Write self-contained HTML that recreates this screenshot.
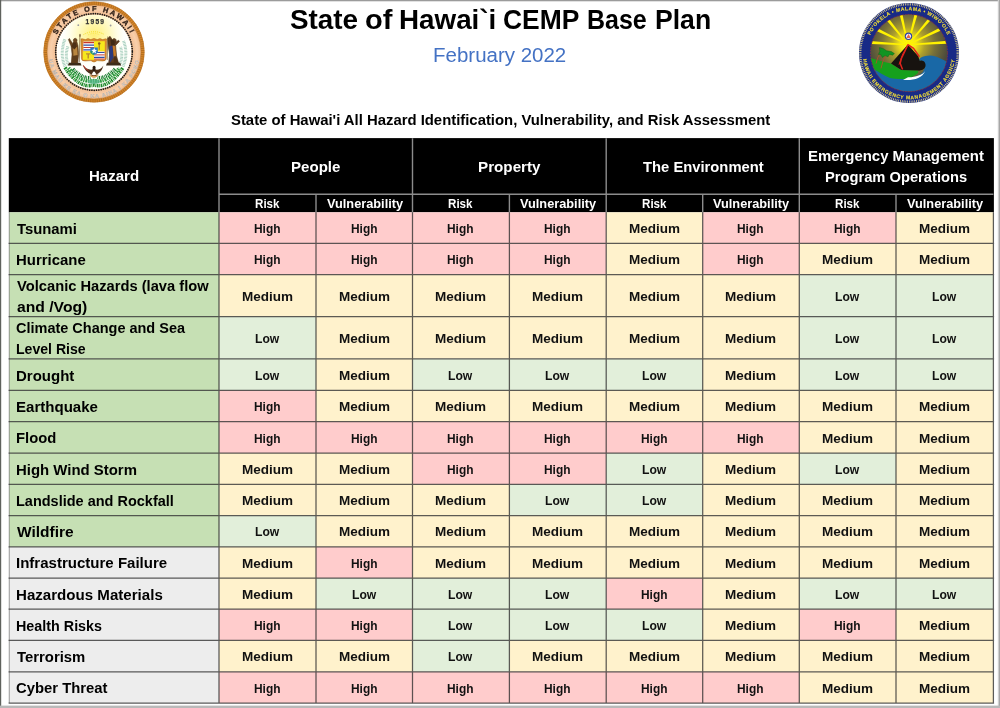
<!DOCTYPE html>
<html lang="en"><head><meta charset="utf-8"><title>State of Hawai`i CEMP Base Plan</title>
<style>
html,body{margin:0;padding:0;background:#fff}
body{width:1000px;height:708px;position:relative;overflow:hidden;font-family:"Liberation Sans",Arial,sans-serif}
#grid,#frame{position:absolute;left:0;top:0}
.t{position:absolute;white-space:nowrap;line-height:20px;font-weight:700;transform-origin:0 50%;margin:0}
.seal{position:absolute}
</style></head><body>
<svg id="grid" width="1000" height="708" viewBox="0 0 1000 708">
<rect x="8.8" y="138.1" width="985.1" height="74.2" fill="#000"/>
<rect x="9.3" y="212.3" width="209.7" height="31.1" fill="#c6e0b4"/>
<rect x="219" y="212.3" width="387.2" height="31.1" fill="#ffcccc"/>
<rect x="606.2" y="212.3" width="96.5" height="31.1" fill="#fff2cc"/>
<rect x="702.7" y="212.3" width="193.3" height="31.1" fill="#ffcccc"/>
<rect x="896" y="212.3" width="97.4" height="31.1" fill="#fff2cc"/>
<rect x="9.3" y="243.4" width="209.7" height="31.2" fill="#c6e0b4"/>
<rect x="219" y="243.4" width="387.2" height="31.2" fill="#ffcccc"/>
<rect x="606.2" y="243.4" width="96.5" height="31.2" fill="#fff2cc"/>
<rect x="702.7" y="243.4" width="96.6" height="31.2" fill="#ffcccc"/>
<rect x="799.3" y="243.4" width="194.1" height="31.2" fill="#fff2cc"/>
<rect x="9.3" y="274.6" width="209.7" height="42.1" fill="#c6e0b4"/>
<rect x="219" y="274.6" width="580.3" height="42.1" fill="#fff2cc"/>
<rect x="799.3" y="274.6" width="194.1" height="42.1" fill="#e2efda"/>
<rect x="9.3" y="316.7" width="209.7" height="42.1" fill="#c6e0b4"/>
<rect x="219" y="316.7" width="97.0" height="42.1" fill="#e2efda"/>
<rect x="316" y="316.7" width="483.3" height="42.1" fill="#fff2cc"/>
<rect x="799.3" y="316.7" width="194.1" height="42.1" fill="#e2efda"/>
<rect x="9.3" y="358.8" width="209.7" height="31.6" fill="#c6e0b4"/>
<rect x="219" y="358.8" width="97.0" height="31.6" fill="#e2efda"/>
<rect x="316" y="358.8" width="96.5" height="31.6" fill="#fff2cc"/>
<rect x="412.5" y="358.8" width="290.2" height="31.6" fill="#e2efda"/>
<rect x="702.7" y="358.8" width="96.6" height="31.6" fill="#fff2cc"/>
<rect x="799.3" y="358.8" width="194.1" height="31.6" fill="#e2efda"/>
<rect x="9.3" y="390.4" width="209.7" height="31.3" fill="#c6e0b4"/>
<rect x="219" y="390.4" width="97.0" height="31.3" fill="#ffcccc"/>
<rect x="316" y="390.4" width="677.4" height="31.3" fill="#fff2cc"/>
<rect x="9.3" y="421.7" width="209.7" height="31.4" fill="#c6e0b4"/>
<rect x="219" y="421.7" width="580.3" height="31.4" fill="#ffcccc"/>
<rect x="799.3" y="421.7" width="194.1" height="31.4" fill="#fff2cc"/>
<rect x="9.3" y="453.1" width="209.7" height="31.3" fill="#c6e0b4"/>
<rect x="219" y="453.1" width="193.5" height="31.3" fill="#fff2cc"/>
<rect x="412.5" y="453.1" width="193.7" height="31.3" fill="#ffcccc"/>
<rect x="606.2" y="453.1" width="96.5" height="31.3" fill="#e2efda"/>
<rect x="702.7" y="453.1" width="96.6" height="31.3" fill="#fff2cc"/>
<rect x="799.3" y="453.1" width="96.7" height="31.3" fill="#e2efda"/>
<rect x="896" y="453.1" width="97.4" height="31.3" fill="#fff2cc"/>
<rect x="9.3" y="484.4" width="209.7" height="31.2" fill="#c6e0b4"/>
<rect x="219" y="484.4" width="290.4" height="31.2" fill="#fff2cc"/>
<rect x="509.4" y="484.4" width="193.3" height="31.2" fill="#e2efda"/>
<rect x="702.7" y="484.4" width="290.7" height="31.2" fill="#fff2cc"/>
<rect x="9.3" y="515.6" width="209.7" height="31.3" fill="#c6e0b4"/>
<rect x="219" y="515.6" width="97.0" height="31.3" fill="#e2efda"/>
<rect x="316" y="515.6" width="677.4" height="31.3" fill="#fff2cc"/>
<rect x="9.3" y="546.9" width="209.7" height="31.1" fill="#ededed"/>
<rect x="219" y="546.9" width="97.0" height="31.1" fill="#fff2cc"/>
<rect x="316" y="546.9" width="96.5" height="31.1" fill="#ffcccc"/>
<rect x="412.5" y="546.9" width="580.9" height="31.1" fill="#fff2cc"/>
<rect x="9.3" y="578.0" width="209.7" height="31.1" fill="#ededed"/>
<rect x="219" y="578.0" width="97.0" height="31.1" fill="#fff2cc"/>
<rect x="316" y="578.0" width="290.2" height="31.1" fill="#e2efda"/>
<rect x="606.2" y="578.0" width="96.5" height="31.1" fill="#ffcccc"/>
<rect x="702.7" y="578.0" width="96.6" height="31.1" fill="#fff2cc"/>
<rect x="799.3" y="578.0" width="194.1" height="31.1" fill="#e2efda"/>
<rect x="9.3" y="609.1" width="209.7" height="31.3" fill="#ededed"/>
<rect x="219" y="609.1" width="193.5" height="31.3" fill="#ffcccc"/>
<rect x="412.5" y="609.1" width="290.2" height="31.3" fill="#e2efda"/>
<rect x="702.7" y="609.1" width="96.6" height="31.3" fill="#fff2cc"/>
<rect x="799.3" y="609.1" width="96.7" height="31.3" fill="#ffcccc"/>
<rect x="896" y="609.1" width="97.4" height="31.3" fill="#fff2cc"/>
<rect x="9.3" y="640.4" width="209.7" height="31.4" fill="#ededed"/>
<rect x="219" y="640.4" width="193.5" height="31.4" fill="#fff2cc"/>
<rect x="412.5" y="640.4" width="96.9" height="31.4" fill="#e2efda"/>
<rect x="509.4" y="640.4" width="484.0" height="31.4" fill="#fff2cc"/>
<rect x="9.3" y="671.8" width="209.7" height="31.3" fill="#ededed"/>
<rect x="219" y="671.8" width="580.3" height="31.3" fill="#ffcccc"/>
<rect x="799.3" y="671.8" width="194.1" height="31.3" fill="#fff2cc"/>
<path d="M219 194.2H993.4M219 138.2V212.3M412.5 138.2V212.3M606.2 138.2V212.3M799.3 138.2V212.3M316 194.2V212.3M509.4 194.2V212.3M702.7 194.2V212.3M896 194.2V212.3" stroke="#8c8c8c" stroke-width="1.4" fill="none"/>
<path d="M8.600000000000001 243.4H994.1M8.600000000000001 274.6H994.1M8.600000000000001 316.7H994.1M8.600000000000001 358.8H994.1M8.600000000000001 390.4H994.1M8.600000000000001 421.7H994.1M8.600000000000001 453.1H994.1M8.600000000000001 484.4H994.1M8.600000000000001 515.6H994.1M8.600000000000001 546.9H994.1M8.600000000000001 578.0H994.1M8.600000000000001 609.1H994.1M8.600000000000001 640.4H994.1M8.600000000000001 671.8H994.1M8.600000000000001 703.1H994.1M219 212.3V703.1M316 212.3V703.1M412.5 212.3V703.1M509.4 212.3V703.1M606.2 212.3V703.1M702.7 212.3V703.1M799.3 212.3V703.1M896 212.3V703.1M993.4 212.3V703.1" stroke="#2e2e2e" stroke-opacity=".78" stroke-width="1.25" fill="none"/>
<path d="M9.3 212.3V703.1" stroke="#4a4a4a" stroke-opacity=".45" stroke-width="1.2" fill="none"/>
</svg>
<svg id="frame" width="1000" height="708" viewBox="0 0 1000 708"><rect x="0" y="0" width="1000" height="1.3" fill="#9b9b9b"/><rect x="0" y="0" width="1.2" height="708" fill="#5f625d"/><rect x="997.8" y="0" width="1.2" height="708" fill="#cfcfcf"/><rect x="999" y="0" width="1" height="708" fill="#a6a6a6"/><rect x="0" y="705.6" width="1000" height="2.4" fill="#b9b9b9"/></svg>
<svg class="seal" style="left:42.5px;top:1px" width="102" height="102" viewBox="-51 -51 102 102" font-family="Liberation Sans, Arial, sans-serif">
<defs>
<radialGradient id="s1glow" cx="0" cy="-17" r="30" gradientUnits="userSpaceOnUse">
<stop offset="0" stop-color="#ffef78"/><stop offset=".4" stop-color="#fff7b0"/><stop offset=".8" stop-color="#fffde8"/><stop offset="1" stop-color="#fffffb"/>
</radialGradient>
<radialGradient id="s1band" cx="0" cy="0" r="48" gradientUnits="userSpaceOnUse">
<stop offset=".8" stop-color="#f3bf94"/><stop offset=".9" stop-color="#f8cfab"/><stop offset="1" stop-color="#f2b987"/>
</radialGradient>
<path id="s1top" d="M-40.9 0A40.9 40.9 0 0 1 40.9 0"/>
<path id="s1bot" d="M-45.9 0A45.9 45.9 0 0 0 45.9 0"/>
</defs>
<circle r="48" fill="url(#s1band)"/>
<circle r="48.7" fill="none" stroke="#d6862a" stroke-width="3.3"/>
<circle r="48.7" fill="none" stroke="#8f5514" stroke-width="3.3" stroke-dasharray="0.9 1.3" stroke-opacity=".5"/>
<circle r="50.3" fill="none" stroke="#b9701f" stroke-width=".5"/>
<circle r="47" fill="none" stroke="#a8651c" stroke-width=".5"/>
<circle r="37.6" fill="url(#s1glow)"/>
<circle r="38.3" fill="none" stroke="#1d1a18" stroke-width="1.75" stroke-dasharray="0.05 2.25" stroke-linecap="round"/>
<text font-size="7.2" font-weight="700" fill="#33231a" stroke="#33231a" stroke-width=".35" letter-spacing="2.05"><textPath href="#s1top" startOffset="50%" text-anchor="middle">STATE OF HAWAII</textPath></text>
<text font-size="5.4" font-weight="700" fill="#e9e4de" stroke="#a9a19a" stroke-width=".3" letter-spacing=".95"><textPath href="#s1bot" startOffset="50%" text-anchor="middle">UA MAU KE EA O KA AINA I KA PONO</textPath></text>
<text x="1.4" y="-27.7" font-size="6.6" font-weight="700" fill="#333" stroke="#333" stroke-width=".25" text-anchor="middle" letter-spacing="1.25">1959</text>
<circle cx="-15.7" cy="-26.8" r=".9" fill="#9a9aa2"/>
<circle cx="16.6" cy="-26.5" r=".9" fill="#9a9aa2"/>
<!-- rising sun dots -->
<path d="M-10.5 -17.4Q0 -23.3 10.5 -17.4" fill="none" stroke="#f2dc1c" stroke-width="1" stroke-dasharray=".9 1.1"/>
<path d="M-6 -17Q0 -20.2 6 -17" fill="none" stroke="#f6e640" stroke-width=".9" stroke-dasharray=".8 1"/>
<!-- ferns -->
<g fill="none" stroke="#a4cdbb" stroke-width="3" stroke-dasharray=".8 .7">
<path d="M-29 14.5Q-34.5 2 -29 -13"/><path d="M-25.6 13Q-29.5 4 -26 -6"/>
<path d="M29 14.5Q34.5 2 29.5 -11"/><path d="M25.6 13Q29.5 4 26.5 -5"/>
</g>
<!-- foliage -->
<g fill="none" stroke-linecap="butt">
<path d="M-29 15.5Q-15 37 0 33Q15 37 29 15.5" stroke="#1f8a2c" stroke-width="3.6" stroke-dasharray="1.7 .7 .9 .6"/>
<path d="M-25.5 16Q-13 31.5 0 28.6Q13 31.5 25.5 16" stroke="#2a9a3a" stroke-width="3.8" stroke-dasharray="1.3 .8 2 .7"/>
<path d="M-21 17Q-11 27 -3.5 25.4M21 17Q11 27 3.5 25.4" stroke="#14782a" stroke-width="3.4" stroke-dasharray="1.2 .7 .7 .9"/>
<path d="M-27 17.5Q-14 34 0 30.8Q14 34 27 17.5" stroke="#e9f6e6" stroke-width=".8" stroke-dasharray=".8 1.9"/>
<path d="M-23 18.5Q-12 29 -2 27M23 18.5Q12 29 2 27" stroke="#d6efd6" stroke-width=".8" stroke-dasharray=".7 1.6"/>
</g>
<ellipse cx="0" cy="29.6" rx="6.5" ry="2.3" fill="#57b78a" fill-opacity=".8"/>
<!-- left figure (Kamehameha) -->
<g>
<path d="M-14 -18L-14.8 10" stroke="#6b4a25" stroke-width=".7"/>
<path d="M-14 -18.6l.6 3.2h-1.2z" fill="#4f3517"/>
<path d="M-24.6 -13.6L-21.3 -8.3L-20.4 -10.6A1.9 2 0 1 1 -17.2 -10.6L-16 -6.5L-15.3 2.5L-16.4 11.2L-22.6 11.2L-22 2L-22.9 -5.8L-25.6 -12.4Z" fill="#6e4820" stroke="#4a2f14" stroke-width=".5"/>
<path d="M-21 -6L-17 -6.5L-16.4 4L-20.4 7Z" fill="#b9863f"/>
<path d="M-25 10.8h11.5l1 2.8h-13.6z" fill="#3d2c1a"/><path d="M-22.6 -5.4L-20.6 -9.6L-18 -9.4L-17 -5.6L-19.6 -2.4Z" fill="#4e3116"/><path d="M-22 4L-16.2 3L-16.6 11H-22.4Z" fill="#5d3c1b"/>
</g>
<!-- right figure (Liberty) -->
<g>
<path d="M13.6 -13.5L16 -15.8L18.4 -12.2A2 2 0 1 1 21 -9.6L24.6 -11.8L25.4 -10.6L21.6 -6.6L22.6 4L24.6 11.2L14.6 11.2L15.6 2.4L14.3 -5Z" fill="#5e3b1e" stroke="#3f2712" stroke-width=".5"/>
<path d="M15.4 -5.6L18.4 -6.8L19.5 5.5L16 10.8L15.3 3Z" fill="#2b3a7d"/>
<path d="M18.6 -6.4L21.3 -5.8L22 3.5L19.8 5.4Z" fill="#c77c2b"/>
<path d="M13 10.8h13.2l1 2.8h-15.2z" fill="#3d2c1a"/><path d="M16.4 -12.6L20.6 -11.6L21 -7.6L17.4 -6.2Z" fill="#3f2914"/><path d="M20.4 3.6L23.4 8L24.4 11H19.6Z" fill="#4b3018"/>
<path d="M13.8 -15.5L13.2 8" stroke="#5a3a1a" stroke-width=".6"/>
</g>
<!-- shield -->
<g>
<path d="M-13 -12.2Q-13.4 -13.6 -11.6 -13.2L-8.6 -12.4L-6 -13.4L-3.2 -12.4L0 -13.6L3.2 -12.4L6 -13.4L8.6 -12.4L11.6 -13.2Q13.2 -13.6 12.6 -11.6L12.2 6.2Q12 9.2 8.6 9L3 8.6Q0 11.6 -3 8.6L-9 9Q-12.6 9.2 -12.6 6.2Z" fill="#d88a2c" stroke="#a86218" stroke-width=".5"/>
<rect x="-10.6" y="-10.4" width="10.6" height="9.6" fill="#fff"/>
<path d="M-10.6 -9.3h10.6M-10.6 -4.5h10.6" stroke="#c8382c" stroke-width="1.2"/>
<path d="M-10.6 -6.9h10.6M-10.6 -2.1h10.6" stroke="#2f4fa4" stroke-width="1.2"/>
<rect x="0" y="-10.8" width="10.8" height="10.2" fill="#f6e81c"/>
<path d="M5.2 -8.6V-2.2" stroke="#8a5a24" stroke-width=".9"/><circle cx="5.2" cy="-8.6" r="1.25" fill="#8a5a24"/>
<rect x="-11.2" y="-.8" width="11.2" height="8.6" fill="#f6e81c"/>
<path d="M-8 1.2h4.4v1.2h-1.5v4h-1.4v-4H-8z" fill="#b98a2e"/>
<rect x="0" y="-.6" width="10.6" height="8" fill="#fff"/>
<path d="M0 .5h10.6M0 5.3h10.6" stroke="#2f4fa4" stroke-width="1.2"/>
<path d="M0 2.9h10.6M0 7h10.6" stroke="#c8382c" stroke-width="1"/>
<path d="M-3.6 -4.6h7.4v5.2Q0 5 -3.6 .6z" fill="#2a78c4"/>
<path d="M-3.6 -1h3.6v4.2Q-3 2.4 -3.6 .6z" fill="#2a9a58" fill-opacity=".7"/>
<path d="M.2 -4.2l.8 2 2.1.1-1.6 1.4.6 2.1L.2 .2-1.7 1.4l.6-2.1-1.6-1.4 2.1-.1z" fill="#fff"/>
</g>
<!-- phoenix -->
<g>
<path d="M-11.4 12.8Q-8.6 20.6 -2.4 22.4L0 18.4L2.4 22.4Q7.6 20.6 9.4 13.4Q6 18.6 1.6 17.6L0 14.6L-1.6 17.6Q-7 18.4 -11.4 12.8Z" fill="#4a2f1a"/>
<path d="M-10.6 13.4Q-8.6 17.4 -5.6 18.4" stroke="#c8382c" stroke-width="1" fill="none"/>
<path d="M-1.4 15.4A1.5 1.6 0 1 1 1.6 15.4L1 19.5H-1z" fill="#2a1a10"/>
<path d="M-5 22Q0 27.2 5 22Q3 25.6 0 25.8Q-3 25.6 -5 22Z" fill="#d88a2c"/>
<path d="M-4 21.6Q0 24.8 4 21.6L3 23.6Q0 24.8 -3 23.6Z" fill="#7b4a1f"/>
</g>
</svg>

<svg class="seal" style="left:857.7px;top:1.5px" width="102" height="102" viewBox="-51 -51 102 102" font-family="Liberation Sans, Arial, sans-serif">
<defs>
<radialGradient id="s2sky" cx="-1" cy="-9" r="40" gradientUnits="userSpaceOnUse">
<stop offset="0" stop-color="#ffff22"/><stop offset=".2" stop-color="#f2e31a"/><stop offset=".42" stop-color="#ad9f2c"/><stop offset=".68" stop-color="#777039"/><stop offset="1" stop-color="#4b4a3c"/>
</radialGradient>
<clipPath id="s2clip"><circle r="38.4"/></clipPath>
<path id="s2top" d="M-42.6 0A42.6 42.6 0 0 1 42.6 0"/>
<path id="s2bot" d="M-46.4 0A46.4 46.4 0 0 0 46.4 0"/>
</defs>
<circle r="50" fill="#182a86"/>
<circle r="48.7" fill="none" stroke="#e2d38c" stroke-width="2.3" stroke-dasharray=".8 1.0"/>
<circle r="38.4" fill="url(#s2sky)"/>
<g clip-path="url(#s2clip)">
<!-- rays -->
<g fill="#fff200">
<path d="M-1.1 -8.8L-38.4 -11.9L-38.6 -8.9L-1.1 -7.8Z"/>
<path d="M-0.9 -8.7L-31.8 -24.9L-33.2 -22.2L-1.3 -7.9Z"/>
<path d="M-0.7 -8.6L-20.4 -34.8L-22.7 -32.9L-1.5 -8.0Z"/>
<path d="M-0.6 -8.4L-6.7 -40.0L-9.6 -39.3L-1.6 -8.2Z"/>
<path d="M-0.6 -8.2L8.7 -39.2L5.8 -40.0L-1.6 -8.4Z"/>
<path d="M-0.7 -8.0L22.3 -33.4L20.1 -35.4L-1.5 -8.6Z"/>
<path d="M-0.9 -7.8L32.6 -22.8L31.3 -25.5L-1.3 -8.8Z"/>
<path d="M-1.1 -7.8L38.8 -9.3L38.6 -12.3L-1.1 -8.8Z"/>
</g>
<!-- water -->
<path d="M-40 12C-30 16 -24 22 -12 25C0 27 9 24 14 19L16 14C17 11 13 7 10.5 8C9 5.5 13 2.6 21 2.4C28 2.6 34 7 40 9.5V40H-40Z" fill="#1968a6"/>
<!-- land -->
<path d="M-40 4.4C-33 6 -26 9 -18 10.6L-8 17L9.4 17.6L9 20C2 26 -6 27.4 -19 25C-27 21.4 -31 18 -40 14Z" fill="#16a01c"/>
<!-- foam -->
<path d="M-6 26.9C4 28 13 25 16.2 18.2C13.6 21.8 6 24.4 -1 24.2Z" fill="#fff"/>
<!-- volcano -->
<path d="M-1.1 -8.6L9.3 3.2C10 5.4 10.2 6.6 10.9 7.9C14 6.4 17.4 9.6 16.4 13.6C15.4 17 11 18 9 17.6L-7.7 17L-18 10.4Z" fill="#17130f"/>
<path d="M-1.1 -8.4L-4 -2L-7.6 5.4L-8.8 10.4L-6.4 16.6" fill="none" stroke="#e0241c" stroke-width="1.5" stroke-linejoin="round"/>
<path d="M-1.1 -8.4L4.6 -4.6L10.4 3.8" fill="none" stroke="#e0241c" stroke-width="1.5" stroke-linejoin="round"/>
<path d="M-2.4 -5.6L-6.2 1L-8.6 7.6L-10 11.6" fill="none" stroke="#d8231c" stroke-width="1"/>
<!-- palms -->
<path d="M-33 10.6Q-31.6 4 -29 .6M-28 15.4Q-26.6 8 -23.6 3.4" fill="none" stroke="#b2502a" stroke-width=".9"/>
<path d="M-29.6 -5.4L-26 -4.6L-22.4 -2.2L-17.6 -1.4L-14.6 .6L-16.4 2.2L-19.6 1.4L-21 3.8L-24 2.6L-26.6 4.4L-28.2 1.6L-30.6 1.4L-29.2 -1.6Z" fill="#119422" stroke="#0b5a18" stroke-width=".4"/>
</g>
<circle r="38.6" fill="none" stroke="#c8321f" stroke-width=".8" stroke-dasharray=".7 .9"/>
<!-- CD emblem -->
<circle cx="-.5" cy="-16.7" r="3.7" fill="#2a3fa6"/>
<circle cx="-.5" cy="-16.7" r="2.6" fill="#f4ecef"/>
<path d="M-.5 -19.1L1.8 -15.1H-2.8Z" fill="#e2674a"/>
<text font-size="5" font-weight="700" fill="#ecd93a" stroke="#ecd93a" stroke-width=".15" letter-spacing=".5"><textPath href="#s2top" startOffset="50%" text-anchor="middle">PO'OKELA • MALAMA • WIWO'OLE</textPath></text>
<text font-size="5" font-weight="700" fill="#ecd93a" stroke="#ecd93a" stroke-width=".15" letter-spacing=".62"><textPath href="#s2bot" startOffset="50%" text-anchor="middle">HAWAII EMERGENCY MANAGEMENT AGENCY</textPath></text>
</svg>

<h1 style="margin:0;font-size:inherit;font-weight:inherit"><span class="t" style="left:289.69px;top:9.50px;font-size:27.5px;color:#000;transform:scaleX(1.0123);">State</span> <span class="t" style="left:364.94px;top:9.50px;font-size:27.5px;color:#000;transform:scaleX(1.0560);">of</span> <span class="t" style="left:398.98px;top:9.50px;font-size:27.5px;color:#000;transform:scaleX(1.0109);">Hawai`i</span> <span class="t" style="left:503.24px;top:9.50px;font-size:27.5px;color:#000;transform:scaleX(0.9610);">CEMP</span> <span class="t" style="left:586.68px;top:9.50px;font-size:27.5px;color:#000;transform:scaleX(0.9079);">Base</span> <span class="t" style="left:654.77px;top:9.50px;font-size:27.5px;color:#000;transform:scaleX(0.9667);">Plan</span></h1>
<div class="t" style="left:433.15px;top:45.00px;font-size:20px;font-weight:400;color:#4472c4;transform:scaleX(1.0244);">February 2022</div>
<div class="t" style="left:230.97px;top:109.50px;font-size:14.5px;color:#000;transform:scaleX(1.0251);">State of Hawai&#x27;i All Hazard Identification, Vulnerability, and Risk Assessment</div>
<div class="t" style="left:88.87px;top:165.70px;font-size:14.6px;color:#fff;transform:scaleX(1.0298);">Hazard</div>
<div class="t" style="left:291.17px;top:156.70px;font-size:14.6px;color:#fff;transform:scaleX(1.0326);">People</div>
<div class="t" style="left:477.96px;top:156.70px;font-size:14.6px;color:#fff;transform:scaleX(1.0424);">Property</div>
<div class="t" style="left:642.50px;top:156.70px;font-size:14.6px;color:#fff;transform:scaleX(1.0126);">The Environment</div>
<div class="t" style="left:807.58px;top:146.40px;font-size:14.6px;color:#fff;transform:scaleX(1.0228);">Emergency Management</div>
<div class="t" style="left:824.99px;top:167.10px;font-size:14.6px;color:#fff;transform:scaleX(1.0071);">Program Operations</div>
<div class="t" style="left:254.68px;top:194.20px;font-size:12.7px;color:#fff;transform:scaleX(0.9154);">Risk</div>
<div class="t" style="left:326.55px;top:194.20px;font-size:12.7px;color:#fff;transform:scaleX(1.0053);">Vulnerability</div>
<div class="t" style="left:448.13px;top:194.20px;font-size:12.7px;color:#fff;transform:scaleX(0.9154);">Risk</div>
<div class="t" style="left:520.10px;top:194.20px;font-size:12.7px;color:#fff;transform:scaleX(1.0053);">Vulnerability</div>
<div class="t" style="left:641.63px;top:194.20px;font-size:12.7px;color:#fff;transform:scaleX(0.9154);">Risk</div>
<div class="t" style="left:713.30px;top:194.20px;font-size:12.7px;color:#fff;transform:scaleX(1.0053);">Vulnerability</div>
<div class="t" style="left:834.83px;top:194.20px;font-size:12.7px;color:#fff;transform:scaleX(0.9154);">Risk</div>
<div class="t" style="left:907.00px;top:194.20px;font-size:12.7px;color:#fff;transform:scaleX(1.0053);">Vulnerability</div>
<div class="t" style="left:17.10px;top:218.85px;font-size:14.7px;color:#000;transform:scaleX(1.0103);">Tsunami</div>
<div class="t" style="left:253.86px;top:218.95px;font-size:12.7px;color:#111;transform:scaleX(0.9407);">High</div>
<div class="t" style="left:350.61px;top:218.95px;font-size:12.7px;color:#111;transform:scaleX(0.9407);">High</div>
<div class="t" style="left:447.31px;top:218.95px;font-size:12.7px;color:#111;transform:scaleX(0.9407);">High</div>
<div class="t" style="left:544.16px;top:218.95px;font-size:12.7px;color:#111;transform:scaleX(0.9407);">High</div>
<div class="t" style="left:628.88px;top:218.95px;font-size:12.7px;color:#111;transform:scaleX(1.0652);">Medium</div>
<div class="t" style="left:737.36px;top:218.95px;font-size:12.7px;color:#111;transform:scaleX(0.9407);">High</div>
<div class="t" style="left:834.01px;top:218.95px;font-size:12.7px;color:#111;transform:scaleX(0.9407);">High</div>
<div class="t" style="left:919.13px;top:218.95px;font-size:12.7px;color:#111;transform:scaleX(1.0652);">Medium</div>
<div class="t" style="left:16.08px;top:250.00px;font-size:14.7px;color:#000;transform:scaleX(1.0164);">Hurricane</div>
<div class="t" style="left:253.86px;top:250.10px;font-size:12.7px;color:#111;transform:scaleX(0.9407);">High</div>
<div class="t" style="left:350.61px;top:250.10px;font-size:12.7px;color:#111;transform:scaleX(0.9407);">High</div>
<div class="t" style="left:447.31px;top:250.10px;font-size:12.7px;color:#111;transform:scaleX(0.9407);">High</div>
<div class="t" style="left:544.16px;top:250.10px;font-size:12.7px;color:#111;transform:scaleX(0.9407);">High</div>
<div class="t" style="left:628.88px;top:250.10px;font-size:12.7px;color:#111;transform:scaleX(1.0652);">Medium</div>
<div class="t" style="left:737.36px;top:250.10px;font-size:12.7px;color:#111;transform:scaleX(0.9407);">High</div>
<div class="t" style="left:822.08px;top:250.10px;font-size:12.7px;color:#111;transform:scaleX(1.0652);">Medium</div>
<div class="t" style="left:919.13px;top:250.10px;font-size:12.7px;color:#111;transform:scaleX(1.0652);">Medium</div>
<div class="t" style="left:17.10px;top:276.25px;font-size:14.7px;color:#000;">Volcanic Hazards (lava flow</div>
<div class="t" style="left:17.10px;top:296.55px;font-size:14.7px;color:#000;transform:scaleX(1.0677);">and /Vog)</div>
<div class="t" style="left:241.93px;top:286.75px;font-size:12.7px;color:#111;transform:scaleX(1.0652);">Medium</div>
<div class="t" style="left:338.68px;top:286.75px;font-size:12.7px;color:#111;transform:scaleX(1.0652);">Medium</div>
<div class="t" style="left:435.38px;top:286.75px;font-size:12.7px;color:#111;transform:scaleX(1.0652);">Medium</div>
<div class="t" style="left:532.23px;top:286.75px;font-size:12.7px;color:#111;transform:scaleX(1.0652);">Medium</div>
<div class="t" style="left:628.88px;top:286.75px;font-size:12.7px;color:#111;transform:scaleX(1.0652);">Medium</div>
<div class="t" style="left:725.43px;top:286.75px;font-size:12.7px;color:#111;transform:scaleX(1.0652);">Medium</div>
<div class="t" style="left:835.19px;top:286.75px;font-size:12.7px;color:#111;transform:scaleX(0.9583);">Low</div>
<div class="t" style="left:932.24px;top:286.75px;font-size:12.7px;color:#111;transform:scaleX(0.9583);">Low</div>
<div class="t" style="left:16.11px;top:318.35px;font-size:14.7px;color:#000;transform:scaleX(0.9859);">Climate Change and Sea</div>
<div class="t" style="left:16.14px;top:338.65px;font-size:14.7px;color:#000;transform:scaleX(0.9592);">Level Rise</div>
<div class="t" style="left:255.04px;top:328.85px;font-size:12.7px;color:#111;transform:scaleX(0.9583);">Low</div>
<div class="t" style="left:338.68px;top:328.85px;font-size:12.7px;color:#111;transform:scaleX(1.0652);">Medium</div>
<div class="t" style="left:435.38px;top:328.85px;font-size:12.7px;color:#111;transform:scaleX(1.0652);">Medium</div>
<div class="t" style="left:532.23px;top:328.85px;font-size:12.7px;color:#111;transform:scaleX(1.0652);">Medium</div>
<div class="t" style="left:628.88px;top:328.85px;font-size:12.7px;color:#111;transform:scaleX(1.0652);">Medium</div>
<div class="t" style="left:725.43px;top:328.85px;font-size:12.7px;color:#111;transform:scaleX(1.0652);">Medium</div>
<div class="t" style="left:835.19px;top:328.85px;font-size:12.7px;color:#111;transform:scaleX(0.9583);">Low</div>
<div class="t" style="left:932.24px;top:328.85px;font-size:12.7px;color:#111;transform:scaleX(0.9583);">Low</div>
<div class="t" style="left:16.08px;top:365.60px;font-size:14.7px;color:#000;transform:scaleX(1.0214);">Drought</div>
<div class="t" style="left:255.04px;top:365.70px;font-size:12.7px;color:#111;transform:scaleX(0.9583);">Low</div>
<div class="t" style="left:338.68px;top:365.70px;font-size:12.7px;color:#111;transform:scaleX(1.0652);">Medium</div>
<div class="t" style="left:448.49px;top:365.70px;font-size:12.7px;color:#111;transform:scaleX(0.9583);">Low</div>
<div class="t" style="left:545.34px;top:365.70px;font-size:12.7px;color:#111;transform:scaleX(0.9583);">Low</div>
<div class="t" style="left:641.99px;top:365.70px;font-size:12.7px;color:#111;transform:scaleX(0.9583);">Low</div>
<div class="t" style="left:725.43px;top:365.70px;font-size:12.7px;color:#111;transform:scaleX(1.0652);">Medium</div>
<div class="t" style="left:835.19px;top:365.70px;font-size:12.7px;color:#111;transform:scaleX(0.9583);">Low</div>
<div class="t" style="left:932.24px;top:365.70px;font-size:12.7px;color:#111;transform:scaleX(0.9583);">Low</div>
<div class="t" style="left:16.08px;top:397.05px;font-size:14.7px;color:#000;transform:scaleX(1.0244);">Earthquake</div>
<div class="t" style="left:253.86px;top:397.15px;font-size:12.7px;color:#111;transform:scaleX(0.9407);">High</div>
<div class="t" style="left:338.68px;top:397.15px;font-size:12.7px;color:#111;transform:scaleX(1.0652);">Medium</div>
<div class="t" style="left:435.38px;top:397.15px;font-size:12.7px;color:#111;transform:scaleX(1.0652);">Medium</div>
<div class="t" style="left:532.23px;top:397.15px;font-size:12.7px;color:#111;transform:scaleX(1.0652);">Medium</div>
<div class="t" style="left:628.88px;top:397.15px;font-size:12.7px;color:#111;transform:scaleX(1.0652);">Medium</div>
<div class="t" style="left:725.43px;top:397.15px;font-size:12.7px;color:#111;transform:scaleX(1.0652);">Medium</div>
<div class="t" style="left:822.08px;top:397.15px;font-size:12.7px;color:#111;transform:scaleX(1.0652);">Medium</div>
<div class="t" style="left:919.13px;top:397.15px;font-size:12.7px;color:#111;transform:scaleX(1.0652);">Medium</div>
<div class="t" style="left:16.09px;top:428.40px;font-size:14.7px;color:#000;transform:scaleX(1.0079);">Flood</div>
<div class="t" style="left:253.86px;top:428.50px;font-size:12.7px;color:#111;transform:scaleX(0.9407);">High</div>
<div class="t" style="left:350.61px;top:428.50px;font-size:12.7px;color:#111;transform:scaleX(0.9407);">High</div>
<div class="t" style="left:447.31px;top:428.50px;font-size:12.7px;color:#111;transform:scaleX(0.9407);">High</div>
<div class="t" style="left:544.16px;top:428.50px;font-size:12.7px;color:#111;transform:scaleX(0.9407);">High</div>
<div class="t" style="left:640.81px;top:428.50px;font-size:12.7px;color:#111;transform:scaleX(0.9407);">High</div>
<div class="t" style="left:737.36px;top:428.50px;font-size:12.7px;color:#111;transform:scaleX(0.9407);">High</div>
<div class="t" style="left:822.08px;top:428.50px;font-size:12.7px;color:#111;transform:scaleX(1.0652);">Medium</div>
<div class="t" style="left:919.13px;top:428.50px;font-size:12.7px;color:#111;transform:scaleX(1.0652);">Medium</div>
<div class="t" style="left:16.08px;top:459.75px;font-size:14.7px;color:#000;transform:scaleX(1.0162);">High Wind Storm</div>
<div class="t" style="left:241.93px;top:459.85px;font-size:12.7px;color:#111;transform:scaleX(1.0652);">Medium</div>
<div class="t" style="left:338.68px;top:459.85px;font-size:12.7px;color:#111;transform:scaleX(1.0652);">Medium</div>
<div class="t" style="left:447.31px;top:459.85px;font-size:12.7px;color:#111;transform:scaleX(0.9407);">High</div>
<div class="t" style="left:544.16px;top:459.85px;font-size:12.7px;color:#111;transform:scaleX(0.9407);">High</div>
<div class="t" style="left:641.99px;top:459.85px;font-size:12.7px;color:#111;transform:scaleX(0.9583);">Low</div>
<div class="t" style="left:725.43px;top:459.85px;font-size:12.7px;color:#111;transform:scaleX(1.0652);">Medium</div>
<div class="t" style="left:835.19px;top:459.85px;font-size:12.7px;color:#111;transform:scaleX(0.9583);">Low</div>
<div class="t" style="left:919.13px;top:459.85px;font-size:12.7px;color:#111;transform:scaleX(1.0652);">Medium</div>
<div class="t" style="left:16.11px;top:491.00px;font-size:14.7px;color:#000;transform:scaleX(0.9867);">Landslide and Rockfall</div>
<div class="t" style="left:241.93px;top:491.10px;font-size:12.7px;color:#111;transform:scaleX(1.0652);">Medium</div>
<div class="t" style="left:338.68px;top:491.10px;font-size:12.7px;color:#111;transform:scaleX(1.0652);">Medium</div>
<div class="t" style="left:435.38px;top:491.10px;font-size:12.7px;color:#111;transform:scaleX(1.0652);">Medium</div>
<div class="t" style="left:545.34px;top:491.10px;font-size:12.7px;color:#111;transform:scaleX(0.9583);">Low</div>
<div class="t" style="left:641.99px;top:491.10px;font-size:12.7px;color:#111;transform:scaleX(0.9583);">Low</div>
<div class="t" style="left:725.43px;top:491.10px;font-size:12.7px;color:#111;transform:scaleX(1.0652);">Medium</div>
<div class="t" style="left:822.08px;top:491.10px;font-size:12.7px;color:#111;transform:scaleX(1.0652);">Medium</div>
<div class="t" style="left:919.13px;top:491.10px;font-size:12.7px;color:#111;transform:scaleX(1.0652);">Medium</div>
<div class="t" style="left:17.10px;top:522.25px;font-size:14.7px;color:#000;transform:scaleX(1.0547);">Wildfire</div>
<div class="t" style="left:255.04px;top:522.35px;font-size:12.7px;color:#111;transform:scaleX(0.9583);">Low</div>
<div class="t" style="left:338.68px;top:522.35px;font-size:12.7px;color:#111;transform:scaleX(1.0652);">Medium</div>
<div class="t" style="left:435.38px;top:522.35px;font-size:12.7px;color:#111;transform:scaleX(1.0652);">Medium</div>
<div class="t" style="left:532.23px;top:522.35px;font-size:12.7px;color:#111;transform:scaleX(1.0652);">Medium</div>
<div class="t" style="left:628.88px;top:522.35px;font-size:12.7px;color:#111;transform:scaleX(1.0652);">Medium</div>
<div class="t" style="left:725.43px;top:522.35px;font-size:12.7px;color:#111;transform:scaleX(1.0652);">Medium</div>
<div class="t" style="left:822.08px;top:522.35px;font-size:12.7px;color:#111;transform:scaleX(1.0652);">Medium</div>
<div class="t" style="left:919.13px;top:522.35px;font-size:12.7px;color:#111;transform:scaleX(1.0652);">Medium</div>
<div class="t" style="left:16.08px;top:553.45px;font-size:14.7px;color:#000;transform:scaleX(1.0233);">Infrastructure Failure</div>
<div class="t" style="left:241.93px;top:553.55px;font-size:12.7px;color:#111;transform:scaleX(1.0652);">Medium</div>
<div class="t" style="left:350.61px;top:553.55px;font-size:12.7px;color:#111;transform:scaleX(0.9407);">High</div>
<div class="t" style="left:435.38px;top:553.55px;font-size:12.7px;color:#111;transform:scaleX(1.0652);">Medium</div>
<div class="t" style="left:532.23px;top:553.55px;font-size:12.7px;color:#111;transform:scaleX(1.0652);">Medium</div>
<div class="t" style="left:628.88px;top:553.55px;font-size:12.7px;color:#111;transform:scaleX(1.0652);">Medium</div>
<div class="t" style="left:725.43px;top:553.55px;font-size:12.7px;color:#111;transform:scaleX(1.0652);">Medium</div>
<div class="t" style="left:822.08px;top:553.55px;font-size:12.7px;color:#111;transform:scaleX(1.0652);">Medium</div>
<div class="t" style="left:919.13px;top:553.55px;font-size:12.7px;color:#111;transform:scaleX(1.0652);">Medium</div>
<div class="t" style="left:16.07px;top:584.55px;font-size:14.7px;color:#000;transform:scaleX(1.0277);">Hazardous Materials</div>
<div class="t" style="left:241.93px;top:584.65px;font-size:12.7px;color:#111;transform:scaleX(1.0652);">Medium</div>
<div class="t" style="left:351.79px;top:584.65px;font-size:12.7px;color:#111;transform:scaleX(0.9583);">Low</div>
<div class="t" style="left:448.49px;top:584.65px;font-size:12.7px;color:#111;transform:scaleX(0.9583);">Low</div>
<div class="t" style="left:545.34px;top:584.65px;font-size:12.7px;color:#111;transform:scaleX(0.9583);">Low</div>
<div class="t" style="left:640.81px;top:584.65px;font-size:12.7px;color:#111;transform:scaleX(0.9407);">High</div>
<div class="t" style="left:725.43px;top:584.65px;font-size:12.7px;color:#111;transform:scaleX(1.0652);">Medium</div>
<div class="t" style="left:835.19px;top:584.65px;font-size:12.7px;color:#111;transform:scaleX(0.9583);">Low</div>
<div class="t" style="left:932.24px;top:584.65px;font-size:12.7px;color:#111;transform:scaleX(0.9583);">Low</div>
<div class="t" style="left:16.12px;top:615.75px;font-size:14.7px;color:#000;transform:scaleX(0.9759);">Health Risks</div>
<div class="t" style="left:253.86px;top:615.85px;font-size:12.7px;color:#111;transform:scaleX(0.9407);">High</div>
<div class="t" style="left:350.61px;top:615.85px;font-size:12.7px;color:#111;transform:scaleX(0.9407);">High</div>
<div class="t" style="left:448.49px;top:615.85px;font-size:12.7px;color:#111;transform:scaleX(0.9583);">Low</div>
<div class="t" style="left:545.34px;top:615.85px;font-size:12.7px;color:#111;transform:scaleX(0.9583);">Low</div>
<div class="t" style="left:641.99px;top:615.85px;font-size:12.7px;color:#111;transform:scaleX(0.9583);">Low</div>
<div class="t" style="left:725.43px;top:615.85px;font-size:12.7px;color:#111;transform:scaleX(1.0652);">Medium</div>
<div class="t" style="left:834.01px;top:615.85px;font-size:12.7px;color:#111;transform:scaleX(0.9407);">High</div>
<div class="t" style="left:919.13px;top:615.85px;font-size:12.7px;color:#111;transform:scaleX(1.0652);">Medium</div>
<div class="t" style="left:17.10px;top:647.10px;font-size:14.7px;color:#000;transform:scaleX(1.0119);">Terrorism</div>
<div class="t" style="left:241.93px;top:647.20px;font-size:12.7px;color:#111;transform:scaleX(1.0652);">Medium</div>
<div class="t" style="left:338.68px;top:647.20px;font-size:12.7px;color:#111;transform:scaleX(1.0652);">Medium</div>
<div class="t" style="left:448.49px;top:647.20px;font-size:12.7px;color:#111;transform:scaleX(0.9583);">Low</div>
<div class="t" style="left:532.23px;top:647.20px;font-size:12.7px;color:#111;transform:scaleX(1.0652);">Medium</div>
<div class="t" style="left:628.88px;top:647.20px;font-size:12.7px;color:#111;transform:scaleX(1.0652);">Medium</div>
<div class="t" style="left:725.43px;top:647.20px;font-size:12.7px;color:#111;transform:scaleX(1.0652);">Medium</div>
<div class="t" style="left:822.08px;top:647.20px;font-size:12.7px;color:#111;transform:scaleX(1.0652);">Medium</div>
<div class="t" style="left:919.13px;top:647.20px;font-size:12.7px;color:#111;transform:scaleX(1.0652);">Medium</div>
<div class="t" style="left:16.09px;top:678.45px;font-size:14.7px;color:#000;transform:scaleX(1.0101);">Cyber Threat</div>
<div class="t" style="left:253.86px;top:678.55px;font-size:12.7px;color:#111;transform:scaleX(0.9407);">High</div>
<div class="t" style="left:350.61px;top:678.55px;font-size:12.7px;color:#111;transform:scaleX(0.9407);">High</div>
<div class="t" style="left:447.31px;top:678.55px;font-size:12.7px;color:#111;transform:scaleX(0.9407);">High</div>
<div class="t" style="left:544.16px;top:678.55px;font-size:12.7px;color:#111;transform:scaleX(0.9407);">High</div>
<div class="t" style="left:640.81px;top:678.55px;font-size:12.7px;color:#111;transform:scaleX(0.9407);">High</div>
<div class="t" style="left:737.36px;top:678.55px;font-size:12.7px;color:#111;transform:scaleX(0.9407);">High</div>
<div class="t" style="left:822.08px;top:678.55px;font-size:12.7px;color:#111;transform:scaleX(1.0652);">Medium</div>
<div class="t" style="left:919.13px;top:678.55px;font-size:12.7px;color:#111;transform:scaleX(1.0652);">Medium</div>
</body></html>
